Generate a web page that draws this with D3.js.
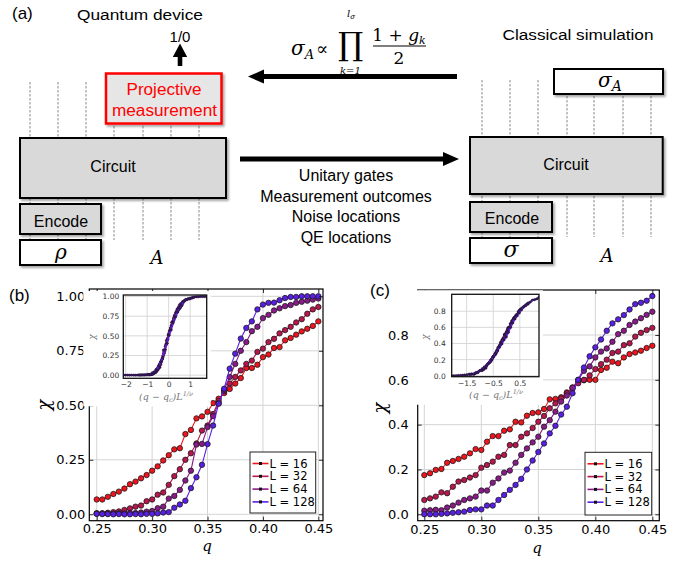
<!DOCTYPE html>
<html><head><meta charset="utf-8">
<script src="https://cdn.jsdelivr.net/npm/d3@7"></script>
<style>
body{margin:0;background:#fff}
svg{display:block}
</style>
</head><body>
<svg id="fig" width="697" height="561"></svg>
<script>
// ---------------- data ----------------
const qValues = [0.250,0.255,0.260,0.265,0.270,0.275,0.280,0.285,0.290,0.295,0.300,0.305,0.310,0.315,0.320,0.325,0.330,0.335,0.340,0.345,0.350,0.355,0.360,0.365,0.370,0.375,0.380,0.385,0.390,0.395,0.400,0.405,0.410,0.415,0.420,0.425,0.430,0.435,0.440,0.445,0.450];
const sizes = [16, 32, 64, 128];
const sizeLabels = ["L = 16", "L = 32", "L = 64", "L = 128"];
const seriesColors = ["#f0141e", "#b8164e", "#8a1a8a", "#5a1ee6"];

const chiB16  = [.068,.068,.080,.093,.104,.118,.138,.150,.165,.180,.200,.220,.247,.271,.298,.303,.368,.387,.440,.449,.470,.510,.530,.556,.575,.600,.625,.671,.671,.686,.721,.733,.763,.767,.798,.809,.824,.839,.851,.864,.885];
const chiB32  = [.005,.005,.007,.010,.013,.020,.027,.035,.040,.060,.068,.090,.100,.135,.175,.207,.250,.280,.325,.384,.407,.460,.520,.565,.600,.630,.660,.690,.705,.745,.760,.790,.805,.830,.845,.860,.880,.895,.920,.940,.951];
const chiB64  = [.003,.003,.003,.003,.004,.004,.006,.006,.008,.012,.015,.028,.035,.072,.084,.112,.155,.200,.320,.323,.400,.450,.510,.570,.630,.690,.750,.790,.840,.860,.900,.915,.935,.945,.955,.960,.970,.975,.980,.985,.990];
const chiB128 = [.002,.001,.001,.000,.001,.000,.000,.001,.000,.002,.002,.004,.008,.010,.030,.045,.062,.120,.170,.227,.322,.407,.507,.576,.668,.737,.806,.855,.885,.940,.962,.970,.971,.982,.992,.997,.997,1.0,1.0,1.0,1.0];

const chiC16  = [.175,.183,.198,.202,.230,.238,.247,.257,.272,.291,.287,.324,.349,.349,.373,.379,.413,.410,.440,.452,.455,.470,.513,.515,.522,.544,.560,.590,.598,.600,.600,.644,.654,.681,.674,.700,.715,.722,.730,.742,.752];
const chiC32  = [.064,.071,.079,.098,.094,.123,.146,.153,.164,.175,.208,.220,.235,.257,.265,.309,.309,.346,.361,.385,.413,.439,.473,.495,.517,.540,.566,.585,.600,.620,.648,.670,.690,.720,.726,.755,.763,.793,.810,.822,.832];
const chiC64  = [.016,.018,.020,.018,.030,.039,.052,.064,.071,.079,.106,.106,.141,.160,.186,.195,.230,.265,.294,.321,.346,.391,.420,.458,.503,.530,.565,.600,.640,.660,.700,.726,.740,.770,.804,.819,.845,.860,.875,.890,.904];
const chiC128 = [.000,.000,.000,.002,.004,.007,.009,.012,.019,.022,.022,.039,.039,.064,.086,.109,.131,.158,.200,.240,.278,.316,.361,.395,.445,.480,.540,.600,.655,.705,.745,.780,.819,.852,.870,.889,.914,.938,.944,.953,.974];

const xTicks = [0.25, 0.30, 0.35, 0.40, 0.45];
const yTicksB = [0, 0.25, 0.5, 0.75, 1.0];
const yTicksC = [0, 0.2, 0.4, 0.6, 0.8];
const insetXTicksB = [-2, -1, 0, 1];
const insetYTicksB = [0, 0.25, 0.5, 0.75, 1.0];
const insetXTicksC = [-1.5, -0.5, 0.5];
const insetYTicksC = [0, 0.2, 0.4, 0.6, 0.8];
const collapseB = {qc: 0.359, invNu: 0.611};
const collapseC = {qc: 0.3756, invNu: 0.5766};

const bottomLabels = ["Unitary gates", "Measurement outcomes", "Noise locations", "QE locations"];

// ---------------- drawing ----------------
const svg = d3.select("#fig");
const SANS = "'Liberation Sans', Arial, sans-serif";
const DJ = "'DejaVu Sans', sans-serif";
const SERIF = "'DejaVu Serif', 'Liberation Serif', serif";

const defs = svg.append("defs");
const f = defs.append("filter").attr("id","sh").attr("x","-10%").attr("y","-10%").attr("width","130%").attr("height","140%");
f.append("feDropShadow").attr("dx",1.8).attr("dy",2).attr("stdDeviation",1.3).attr("flood-color","#000").attr("flood-opacity",0.35);

function text(g, x, y, s, o = {}) {
  const t = g.append("text").attr("x", x).attr("y", y).text(s)
    .attr("font-family", o.family || SANS).attr("font-size", o.size || 15)
    .attr("text-anchor", o.anchor || "middle").attr("fill", o.fill || "#000");
  if (o.italic) t.attr("font-style", "italic");
  if (o.len) t.attr("textLength", o.len).attr("lengthAdjust", "spacingAndGlyphs");
  return t;
}
function box(g, x, y, w, h, fill, stroke, sw) {
  return g.append("rect").attr("x", x).attr("y", y).attr("width", w).attr("height", h)
    .attr("fill", fill).attr("stroke", stroke).attr("stroke-width", sw).attr("filter", "url(#sh)");
}

// ---------- panel (a) ----------
const ga = svg.append("g");
text(ga, 12, 19, "(a)", {anchor: "start", size: 17});
text(ga, 140, 20, "Quantum device", {size: 15.5, len: 126});
text(ga, 180, 42, "1/0", {size: 15});
text(ga, 578, 40, "Classical simulation", {size: 15.5, len: 151});

const leftWires = [30, 58, 86, 114, 143, 171, 199];
const rightWires = [482, 510, 538, 567, 594, 623, 651];
ga.selectAll(null).data(leftWires).join("line")
  .attr("x1", d => d).attr("x2", d => d).attr("y1", 82).attr("y2", 240)
  .attr("stroke", "#555").attr("stroke-width", 0.7).attr("stroke-dasharray", "2.5,1.5");
ga.selectAll(null).data(rightWires).join("line")
  .attr("x1", d => d).attr("x2", d => d).attr("y1", 80).attr("y2", 237)
  .attr("stroke", "#555").attr("stroke-width", 0.7).attr("stroke-dasharray", "2.5,1.5");

box(ga, 106, 73.5, 115.5, 50, "#e6e6e6", "#ff0000", 2.5);
text(ga, 164, 95, "Projective", {size: 16, fill: "#ff0000", len: 75});
text(ga, 164.5, 116, "measurement", {size: 16, fill: "#ff0000", len: 105});
box(ga, 20, 138, 206, 60, "#d9d9d9", "#000", 2);
text(ga, 113, 172, "Circuit", {size: 16});
box(ga, 20, 204, 81, 30, "#d9d9d9", "#000", 2);
text(ga, 61, 227, "Encode", {size: 16});
box(ga, 20, 240, 81, 25, "#fff", "#000", 2);
text(ga, 61, 259, "ρ", {family: SERIF, italic: true, size: 20});
text(ga, 157, 264, "A", {family: SERIF, italic: true, size: 18});

box(ga, 554, 69, 109, 25, "#fff", "#000", 2);
const sA = ga.append("text").attr("x", 610).attr("y", 87).attr("text-anchor", "middle")
  .attr("font-family", SERIF).attr("font-style", "italic").attr("font-size", 20);
sA.append("tspan").text("σ");
sA.append("tspan").attr("font-size", 14).attr("dy", 4).text("A");
box(ga, 470, 137, 192.7, 57, "#d9d9d9", "#000", 2);
text(ga, 566, 170, "Circuit", {size: 16});
box(ga, 470, 202, 82, 30, "#d9d9d9", "#000", 2);
text(ga, 512, 224, "Encode", {size: 16});
box(ga, 470, 238, 82, 25, "#fff", "#000", 2);
text(ga, 511, 257, "σ", {family: SERIF, italic: true, size: 22});
text(ga, 607, 262, "A", {family: SERIF, italic: true, size: 18});

function arrowH(g, x1, x2, y, dir) {
  const hl = 16, hw = 7, tw = 2.4;
  const base = x2 - dir * hl;
  g.append("path").attr("d",
    `M${x1},${y - tw}L${base},${y - tw}L${base},${y - hw}L${x2},${y}L${base},${y + hw}L${base},${y + tw}L${x1},${y + tw}Z`)
    .attr("fill", "#000");
}
arrowH(ga, 457, 248, 76.5, -1);
arrowH(ga, 240, 459, 159, 1);
ga.append("path").attr("d", "M177.7,66L177.7,57L172.8,57L180,43.5L187.2,57L182.3,57L182.3,66Z").attr("fill", "#000");

ga.selectAll(null).data(bottomLabels).join("text")
  .attr("x", 346).attr("y", (d, i) => 181 + i * 20.5).attr("text-anchor", "middle")
  .attr("font-family", SANS).attr("font-size", 16).text(d => d);

const fg = ga.append("g").attr("font-family", SERIF);
const fs = fg.append("text").attr("x", 291).attr("y", 55).attr("font-size", 20).attr("font-style", "italic");
fs.append("tspan").text("σ");
fs.append("tspan").attr("font-size", 13).attr("dy", 4).text("A");
fg.append("text").attr("x", 316).attr("y", 55).attr("font-size", 18).text("∝");
fg.append("text").attr("x", 338).attr("y", 55).attr("font-size", 32).text("∏");
const lt = fg.append("text").attr("x", 347).attr("y", 17).attr("font-size", 10).attr("font-style", "italic");
lt.append("tspan").text("l");
lt.append("tspan").attr("font-size", 7).attr("dy", 2).text("σ");
fg.append("text").attr("x", 340).attr("y", 74).attr("font-size", 10).attr("font-style", "italic").text("k=1");
const num = fg.append("text").attr("x", 399).attr("y", 41).attr("font-size", 17).attr("text-anchor", "middle");
num.append("tspan").text("1 + ");
num.append("tspan").attr("font-style", "italic").text("g");
num.append("tspan").attr("font-style", "italic").attr("font-size", 11).attr("dy", 3).text("k");
fg.append("line").attr("x1", 373).attr("x2", 426).attr("y1", 46).attr("y2", 46).attr("stroke", "#000").attr("stroke-width", 1.1);
fg.append("text").attr("x", 399).attr("y", 64).attr("font-size", 17).attr("text-anchor", "middle").text("2");

// ---------- panels (b), (c) ----------
function panel(o) {
  const g = svg.append("g");
  const x = d3.scaleLinear().domain(o.xDom).range([o.L, o.R]);
  const y = d3.scaleLinear().domain(o.yDom).range([o.B, o.T]);
  g.selectAll(null).data(xTicks).join("line").attr("x1", d => x(d)).attr("x2", d => x(d))
    .attr("y1", o.T).attr("y2", o.B).attr("stroke", "#d4d4d4").attr("stroke-width", 1);
  g.selectAll(null).data(o.yTicks).join("line").attr("y1", d => y(d)).attr("y2", d => y(d))
    .attr("x1", o.L).attr("x2", o.R).attr("stroke", "#d4d4d4").attr("stroke-width", 1);
  const line = d3.line().x(d => x(d[0])).y(d => y(d[1]));
  o.series.forEach((vals, i) => {
    const pts = qValues.map((q, j) => [q, vals[j]]);
    g.append("path").datum(pts).attr("d", line).attr("fill", "none")
      .attr("stroke", seriesColors[i]).attr("stroke-width", 1.1);
    g.selectAll(null).data(pts).join("circle").attr("cx", d => x(d[0])).attr("cy", d => y(d[1]))
      .attr("r", 2.7).attr("fill", seriesColors[i]).attr("stroke", "#1a1a1a").attr("stroke-width", 0.8);
  });
  g.append("g").attr("transform", `translate(0,${o.B})`)
    .call(d3.axisBottom(x).tickValues(xTicks).tickFormat(d3.format(".2f")).tickSize(-4).tickPadding(o.xPad));
  g.append("g").attr("transform", `translate(${o.L},0)`)
    .call(d3.axisLeft(y).tickValues(o.yTicks).tickFormat(d3.format(o.yFmt)).tickSize(-4).tickPadding(o.yPad));
  g.append("g").attr("transform", `translate(0,${o.T})`)
    .call(d3.axisTop(x).tickValues(xTicks).tickFormat("").tickSize(-4));
  g.append("g").attr("transform", `translate(${o.R},0)`)
    .call(d3.axisRight(y).tickValues(o.yTicks).tickFormat("").tickSize(-4));
  g.selectAll(".domain").remove();
  g.selectAll(".tick line").attr("stroke", "#000").attr("stroke-width", 0.8);
  g.selectAll(".tick text").attr("font-family", DJ).attr("font-size", 13).attr("fill", "#000");
  g.append("rect").attr("x", o.L).attr("y", o.T).attr("width", o.R - o.L).attr("height", o.B - o.T)
    .attr("fill", "none").attr("stroke", "#000").attr("stroke-width", 1.2);
  text(g, o.qx, o.qy, "q", {family: SERIF, italic: true, size: 15});
  text(g, 0, 0, "χ", {family: SERIF, italic: true, size: 18})
    .attr("transform", `translate(${o.chiX},${o.chiY}) rotate(-90)`);
  text(g, o.labX, o.labY, o.lab, {anchor: "start", size: 17});

  const I = o.inset;
  const ix = d3.scaleLinear().domain(I.xDom).range([I.L, I.R]);
  const iy = d3.scaleLinear().domain(I.yDom).range([I.B, I.T]);
  const ig = g.append("g");
  ig.append("rect").attr("x", I.L - 40).attr("y", I.T - 4).attr("width", I.R - I.L + 44).attr("height", I.B - I.T + 32).attr("fill", "#fff");
  ig.selectAll(null).data(I.xTicks).join("line").attr("x1", d => ix(d)).attr("x2", d => ix(d))
    .attr("y1", I.T).attr("y2", I.B).attr("stroke", "#cfcfcf").attr("stroke-width", 0.8);
  ig.selectAll(null).data(I.yTicks).join("line").attr("y1", d => iy(d)).attr("y2", d => iy(d))
    .attr("x1", I.L).attr("x2", I.R).attr("stroke", "#cfcfcf").attr("stroke-width", 0.8);
  const clipId = "clip" + o.lab.replace(/\W/g, "");
  defs.append("clipPath").attr("id", clipId).append("rect").attr("x", I.L).attr("y", I.T).attr("width", I.R - I.L).attr("height", I.B - I.T);
  const cg = ig.append("g").attr("clip-path", `url(#${clipId})`);
  const iline = d3.line().x(d => ix(d[0])).y(d => iy(d[1]));
  o.series.forEach((vals, i) => {
    const s = Math.pow(sizes[i], o.collapse.invNu);
    const pts = qValues.map((q, j) => [(q - o.collapse.qc) * s, vals[j]]);
    cg.append("path").datum(pts).attr("d", iline).attr("fill", "none")
      .attr("stroke", seriesColors[i]).attr("stroke-width", 1.6);
    cg.selectAll(null).data(pts).join("circle").attr("cx", d => ix(d[0])).attr("cy", d => iy(d[1]))
      .attr("r", 1.2).attr("fill", "#3a1a5a").attr("stroke", "#1a1030").attr("stroke-width", 0.4);
  });
  const iax = ig.append("g").attr("transform", `translate(0,${I.B})`)
    .call(d3.axisBottom(ix).tickValues(I.xTicks).tickFormat(d3.format(I.xFmt)).tickSize(0).tickPadding(I.xPad));
  const iay = ig.append("g").attr("transform", `translate(${I.L},0)`)
    .call(d3.axisLeft(iy).tickValues(I.yTicks).tickFormat(d3.format(I.yFmt)).tickSize(0).tickPadding(I.yPad));
  iax.select(".domain").remove(); iay.select(".domain").remove();
  ig.selectAll(".tick text").attr("font-family", DJ).attr("font-size", 7.5).attr("fill", "#333");
  ig.append("rect").attr("x", I.L).attr("y", I.T).attr("width", I.R - I.L).attr("height", I.B - I.T)
    .attr("fill", "none").attr("stroke", "#111").attr("stroke-width", 1.3);
  const xl = ig.append("text").attr("x", I.labX).attr("y", I.labY).attr("text-anchor", "middle")
    .attr("font-family", SERIF).attr("font-style", "italic").attr("font-size", 9.5).attr("fill", "#777");
  xl.append("tspan").text("(q − q");
  xl.append("tspan").attr("font-size", 6.5).attr("dy", 2).text("c");
  xl.append("tspan").attr("dy", -2).text(")L");
  xl.append("tspan").attr("font-size", 6.5).attr("dy", -4).text("1/ν");
  text(ig, 0, 0, "χ", {family: SERIF, italic: true, size: 9, fill: "#777"})
    .attr("transform", `translate(${I.chiX},${I.chiY}) rotate(-90)`);

  const Lg = o.legend;
  const lg = g.append("g");
  lg.append("rect").attr("x", Lg.x).attr("y", Lg.y).attr("width", Lg.w).attr("height", Lg.h)
    .attr("fill", "#fff").attr("stroke", "#222").attr("stroke-width", 1);
  sizeLabels.forEach((lab, i) => {
    const yy = Lg.y + 11.5 + i * 12.8;
    lg.append("line").attr("x1", Lg.x + 2.5).attr("x2", Lg.x + 18.5).attr("y1", yy).attr("y2", yy)
      .attr("stroke", seriesColors[i]).attr("stroke-width", 1.6);
    lg.append("rect").attr("x", Lg.x + 9).attr("y", yy - 1.5).attr("width", 3).attr("height", 3).attr("fill", "#111");
    lg.append("text").attr("x", Lg.x + 19.5).attr("y", yy + 4).attr("font-family", DJ).attr("font-size", 11.5).text(lab);
  });
}

panel({
  lab: "(b)", labX: 9, labY: 301,
  L: 89.3, R: 323, T: 289, B: 520.7,
  xDom: [0.2433, 0.4542], yDom: [-0.0294, 1.0335],
  yTicks: yTicksB, yFmt: ".2f", xPad: 3, yPad: 4,
  series: [chiB16, chiB32, chiB64, chiB128],
  qx: 207, qy: 551, chiX: 50, chiY: 405,
  collapse: collapseB,
  inset: {L: 123.3, R: 206.7, T: 295, B: 378.3, xDom: [-2.11, 1.77], yDom: [-0.04, 1.02],
          xTicks: insetXTicksB, yTicks: insetYTicksB, xFmt: "d", yFmt: ".2f", xPad: 3, yPad: 4,
          labX: 166, labY: 400, chiX: 95, chiY: 337},
  legend: {x: 250, y: 452, w: 65.7, h: 61}
});

panel({
  lab: "(c)", labX: 370, labY: 296,
  L: 417.7, R: 659.3, T: 290, B: 520.7,
  xDom: [0.2442, 0.4561], yDom: [-0.0286, 1.0009],
  yTicks: yTicksC, yFmt: ".1f", xPad: 4, yPad: 9,
  series: [chiC16, chiC32, chiC64, chiC128],
  qx: 537, qy: 553, chiX: 386, chiY: 408,
  collapse: collapseC,
  inset: {L: 451.7, R: 539, T: 294.3, B: 376.7, xDom: [-2.06, 1.22], yDom: [-0.012, 1.01],
          xTicks: insetXTicksC, yTicks: insetYTicksC, xFmt: ".1f", yFmt: ".1f", xPad: 4, yPad: 6,
          labX: 496, labY: 398, chiX: 428, chiY: 337},
  legend: {x: 585, y: 452.3, w: 66.7, h: 62.7}
});
</script>
</body></html>
